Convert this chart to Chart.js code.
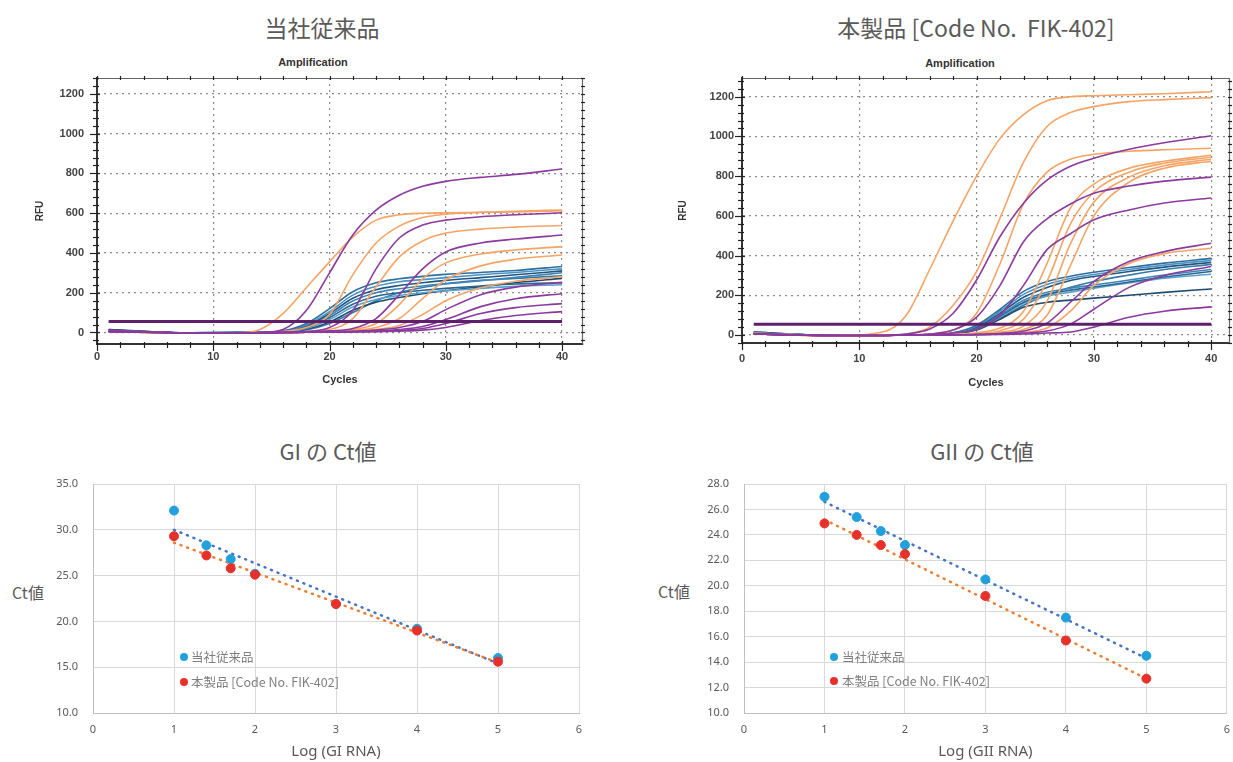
<!DOCTYPE html>
<html><head><meta charset="utf-8">
<script src="https://cdn.jsdelivr.net/npm/chart.js@4.4.0/dist/chart.umd.min.js"></script>
<style>
html,body{margin:0;padding:0;background:#fff;}
body{width:1233px;height:762px;overflow:hidden;position:relative;font-family:"Noto Sans CJK JP","Noto Sans",sans-serif;}
.title{position:absolute;font-size:23px;color:#5a5a5a;white-space:pre;transform:translate(-50%,-50%);line-height:1;}
.amp{position:absolute;font:bold 11px "Liberation Sans",Arial,sans-serif;color:#333;transform:translate(-50%,-50%);line-height:1;}
.ct{position:absolute;font-size:16px;color:#595959;transform:translate(-50%,-50%);line-height:1;white-space:pre;}
.leg{position:absolute;font-size:12.5px;color:#7f7f7f;white-space:pre;transform:translateY(-50%);line-height:1;}
.dot{position:absolute;width:8px;height:8px;border-radius:50%;transform:translate(-50%,-50%);}
canvas{position:absolute;}
</style></head>
<body>
<div class="title" style="left:322px;top:27px">当社従来品</div>
<div class="title" style="left:976px;top:27px">本製品 [Code No.  FIK-402]</div>
<div class="amp" style="left:313px;top:62px">Amplification</div>
<div class="amp" style="left:960px;top:63px">Amplification</div>
<div class="title" style="left:328px;top:450px;font-size:22px">GI の Ct値</div>
<div class="title" style="left:982px;top:450px;font-size:22px">GII の Ct値</div>
<div class="ct" style="left:28px;top:592px">Ct値</div>
<div class="ct" style="left:674px;top:591px">Ct値</div>

<canvas id="ampConv" width="600" height="360" style="left:0px;top:40px"></canvas>
<canvas id="ampNew" width="600" height="360" style="left:640px;top:40px"></canvas>
<canvas id="ctGI" width="600" height="292" style="left:0px;top:470px"></canvas>
<canvas id="ctGII" width="600" height="292" style="left:640px;top:470px"></canvas>

<div class="dot" style="left:184px;top:657px;background:#22a0dc"></div>
<div class="leg" style="left:191px;top:657px">当社従来品</div>
<div class="dot" style="left:184px;top:682px;background:#e8302a"></div>
<div class="leg" style="left:191px;top:682px">本製品 [Code No. FIK-402]</div>
<div class="dot" style="left:834px;top:657px;background:#22a0dc"></div>
<div class="leg" style="left:842px;top:657px">当社従来品</div>
<div class="dot" style="left:834px;top:681px;background:#e8302a"></div>
<div class="leg" style="left:842px;top:681px">本製品 [Code No. FIK-402]</div>

<script>
// ---------- Amplification data (RFU read at these cycles) ----------
const CYCLES = [1, 8, 12, 14, 16, 18, 20, 22, 24, 26, 28, 30, 33, 36, 40];
const THRESH_X = [1, 40];
const THRESH_CONV = [55, 55];
const THRESH_NEW = [55, 55];

const convOrange = [
  [8,-3,-2,15,95,225,355,480,565,592,600,602,604,606,612],
  [5,-3,-2,-2,5,25,90,290,450,535,578,595,605,610,616],
  [5,-3,-2,-2,0,5,15,70,230,380,460,500,520,530,538],
  [5,-3,-2,-2,0,2,6,15,45,140,270,350,395,415,432],
  [5,-3,-2,-2,0,2,5,10,25,70,170,265,335,368,390],
  [5,-3,-2,-2,0,2,4,8,15,35,90,160,225,258,280]
];
const convPurple = [
  [12,-2,-2,0,15,110,300,490,615,690,735,760,780,795,822],
  [5,-2,-2,-2,0,5,25,110,320,475,540,565,582,592,602],
  [5,-2,-2,-2,0,2,8,20,70,190,320,405,450,470,490],
  [5,-2,-2,-2,0,1,3,6,12,25,55,115,190,228,252],
  [5,-2,-2,-2,0,1,2,4,8,15,30,65,130,170,195],
  [5,-2,-2,-2,0,1,2,3,5,10,20,45,95,125,145],
  [5,-2,-2,-2,0,1,2,3,4,7,12,25,60,85,105]
];
const convBlue = [
  [10,-2,-1,0,8,45,120,205,250,270,282,292,302,312,332],
  [10,-2,-1,0,6,38,105,188,232,255,266,276,290,302,320],
  [10,-2,-1,0,5,32,95,172,215,236,250,262,276,290,310],
  [10,-2,-1,0,4,28,85,158,200,220,234,245,260,277,300],
  [10,-2,-1,0,4,24,75,142,182,200,212,222,234,244,250],
  [10,-2,-1,0,3,20,65,128,166,186,200,210,222,232,240],
  [15,-2,-1,0,3,16,52,112,152,176,195,210,230,250,272],
  [15,-2,-1,0,2,12,45,100,160,200,226,245,262,272,285]
];

const newOrange = [
  [10,-3,15,100,330,575,800,990,1110,1180,1200,1205,1210,1215,1225],
  [8,-3,-2,5,40,150,320,590,870,1050,1120,1150,1175,1185,1195],
  [5,-3,-2,0,5,25,110,360,660,820,885,910,925,933,940],
  [5,-3,-2,0,0,3,12,35,120,360,640,760,840,875,905],
  [5,-3,-2,0,0,2,8,22,80,270,560,720,820,865,895],
  [5,-3,-2,0,0,2,5,14,45,170,460,670,795,852,885],
  [5,-3,-2,0,0,1,4,10,28,100,350,600,770,840,875],
  [5,-3,-2,0,0,1,3,6,12,35,120,250,360,410,437]
];
const newPurple = [
  [5,-2,-2,5,30,110,277,496,664,780,850,890,935,968,1003],
  [5,-2,-2,0,5,25,90,250,470,585,660,714,750,775,795],
  [5,-2,-2,0,2,10,30,100,250,430,510,580,630,665,690],
  [5,-2,-2,0,0,1,3,8,20,60,165,270,370,420,462],
  [5,-2,-2,0,0,1,2,5,10,20,55,130,240,300,345],
  [5,-2,-2,0,0,1,2,3,5,10,15,40,90,120,142]
];
const newBlue = [
  [10,-2,-1,0,2,12,50,130,220,270,296,316,340,362,386],
  [10,-2,-1,0,2,10,45,120,205,255,285,305,330,352,376],
  [10,-2,-1,0,2,9,40,110,190,240,275,295,320,342,366],
  [10,-2,-1,0,2,8,35,100,175,215,236,252,277,302,330],
  [10,-2,-1,0,1,7,30,95,165,205,226,242,267,292,320],
  [10,-2,-1,0,1,7,30,90,160,195,216,236,262,286,306],
  [15,-2,-1,0,1,6,25,80,140,165,176,186,200,215,232],
  [15,-2,-1,0,1,7,30,85,150,200,240,270,302,330,356]
];

// ---------- Ct data ----------
const logRNA = [1, 1.4, 1.7, 2, 3, 4, 5];
const ctGI_conv = [32.1, 28.3, 26.8, 25.2, 21.9, 19.2, 16.0];
const ctGI_new  = [29.3, 27.2, 25.8, 25.1, 21.9, 19.0, 15.6];
const ctGII_conv = [27.0, 25.4, 24.3, 23.2, 20.5, 17.5, 14.5];
const ctGII_new  = [24.9, 24.0, 23.2, 22.5, 19.2, 15.7, 12.7];
const trendX = [1, 5];
const trendGI_conv = [30.0, 15.4];
const trendGI_new  = [28.6, 15.5];
const trendGII_conv = [26.6, 14.3];
const trendGII_new  = [25.2, 12.7];

// ---------- styles ----------
const ORANGE = '#f5a466';
const PURPLE = '#8b3a9e';
const BLUES = ['#2f6f9f','#4a93c4','#24557e','#3d85b8','#2a6690','#5aa0cc','#1f4a6e','#357aab'];
const THRESH_COLOR = '#5e1f6b';
const TICK_FONT = {family:'"Liberation Sans", Arial, sans-serif', size:11, weight:'bold'};

const pts = (xs, ys) => xs.map((x, i) => ({x, y: ys[i]}));
const curve = (vals, color) => ({
  data: pts(CYCLES, vals), borderColor: color, borderWidth: 1.6,
  pointRadius: 0, cubicInterpolationMode: 'monotone', fill: false
});

const frameTicks = {
  id: 'frameTicks',
  afterDraw(chart) {
    const {ctx, chartArea: a, scales: {x, y}} = chart;
    ctx.save();
    ctx.strokeStyle = '#666'; ctx.lineWidth = 1.2;
    ctx.beginPath();
    ctx.moveTo(a.left, a.top + 0.5); ctx.lineTo(a.right - 0.5, a.top + 0.5); ctx.lineTo(a.right - 0.5, a.bottom);
    ctx.stroke();
    ctx.strokeStyle = '#222'; ctx.lineWidth = 1.2;
    for (let v = Math.ceil(y.min / 40) * 40; v <= y.max; v += 40) {
      const py = Math.round(y.getPixelForValue(v)) + 0.5;
      const major = v % 200 === 0;
      ctx.beginPath(); ctx.moveTo(a.left - (major ? 7 : 4), py); ctx.lineTo(a.left + (major ? 3 : 2), py); ctx.stroke();
      ctx.beginPath(); ctx.moveTo(a.right - 2, py); ctx.lineTo(a.right + 2, py); ctx.stroke();
    }
    for (let v = 0; v <= x.max; v += 2) {
      const px = Math.round(x.getPixelForValue(v)) + 0.5;
      const major = v % 10 === 0;
      ctx.beginPath(); ctx.moveTo(px, a.bottom - (major ? 3 : 2)); ctx.lineTo(px, a.bottom + (major ? 7 : 4)); ctx.stroke();
      ctx.beginPath(); ctx.moveTo(px, a.top - 2); ctx.lineTo(px, a.top + 2); ctx.stroke();
    }
    ctx.restore();
  }
};

function ampChart(id, orange, purple, blue, thresh, o) {
  const sets = [];
  sets.push({data: pts(THRESH_X, thresh), borderColor: THRESH_COLOR, borderWidth: 3, pointRadius: 0, fill: false});
  purple.forEach(v => sets.push(curve(v, PURPLE)));
  orange.forEach(v => sets.push(curve(v, ORANGE)));
  blue.forEach((v, i) => sets.push(curve(v, BLUES[i % BLUES.length])));
  return new Chart(document.getElementById(id), {
    type: 'line',
    data: {datasets: sets},
    plugins: [frameTicks],
    options: {
      responsive: false, animation: false, events: [],
      layout: {padding: {top: o.padTop, right: o.padRight, left: 0, bottom: 0}},
      plugins: {legend: {display: false}, tooltip: {enabled: false}},
      scales: {
        x: {
          type: 'linear', min: 0, max: o.xMax,
          ticks: {stepSize: 10, includeBounds: false, padding: o.xTickPad, color: '#444', font: TICK_FONT, maxRotation: 0, callback: v => String(v)},
          grid: {color: '#8c8c8c', lineWidth: 1.2, drawTicks: false},
          border: {display: true, color: '#333', width: 2, dash: [2, 4]},
          title: {display: true, text: 'Cycles', color: '#333', font: TICK_FONT, padding: {top: 0, bottom: o.cycPad}},
          afterFit: s => { s.height = o.xH; }
        },
        y: {
          min: o.yMin, max: o.yMax,
          ticks: {stepSize: 200, includeBounds: false, padding: o.yTickPad, color: '#444', font: TICK_FONT, callback: v => String(v)},
          grid: {color: '#8c8c8c', lineWidth: 1.2, drawTicks: false},
          border: {display: true, color: '#333', width: 2, dash: [2, 4]},
          title: {display: true, text: 'RFU', color: '#333', font: {family: TICK_FONT.family, size: 10, weight: 'bold'}, padding: {top: o.rfuPad, bottom: 0}},
          afterFit: s => { s.width = o.yW; }
        }
      }
    }
  });
}

ampChart('ampConv', convOrange, convPurple, convBlue, THRESH_CONV,
  {padTop: 38, padRight: 17, xMax: 41.8, yMin: -58, yMax: 1280, yW: 97, xH: 56, xTickPad: 6, yTickPad: 13, cycPad: 13, rfuPad: 34});
ampChart('ampNew', newOrange, newPurple, newBlue, THRESH_NEW,
  {padTop: 38, padRight: 10, xMax: 41.6, yMin: -40, yMax: 1294, yW: 102, xH: 57, xTickPad: 9, yTickPad: 8, cycPad: 10, rfuPad: 37});

const CT_FONT = {family: '"Noto Sans", sans-serif', size: 11};
function ctChart(id, conv, nw, tConv, tNew, o) {
  return new Chart(document.getElementById(id), {
    type: 'scatter',
    data: {datasets: [
      {data: pts(logRNA, nw), backgroundColor: '#e8302a', borderColor: '#e8302a', borderWidth: 1, pointRadius: 4.5},
      {data: pts(logRNA, conv), backgroundColor: '#22a0dc', borderColor: '#22a0dc', borderWidth: 1, pointRadius: 4.5},
      {type: 'line', data: pts(trendX, tNew), borderColor: '#ed7d31', borderWidth: 2.5, borderDash: [1, 6], borderCapStyle: 'round', pointRadius: 0, fill: false},
      {type: 'line', data: pts(trendX, tConv), borderColor: '#4472c4', borderWidth: 2.5, borderDash: [1, 6], borderCapStyle: 'round', pointRadius: 0, fill: false}
    ]},
    options: {
      responsive: false, animation: false, events: [],
      layout: {padding: {top: 14, right: o.padRight, left: 0, bottom: 0}},
      plugins: {legend: {display: false}, tooltip: {enabled: false}},
      scales: {
        x: {
          type: 'linear', min: 0, max: 6,
          ticks: {stepSize: 1, padding: 10, color: '#595959', font: CT_FONT, maxRotation: 0},
          grid: {color: '#d9d9d9', lineWidth: 1, drawTicks: false},
          border: {display: true, color: '#bfbfbf', width: 1},
          title: {display: true, text: o.xTitle, color: '#595959', font: {family: '"Noto Sans", sans-serif', size: 15}, padding: {top: 0, bottom: 1}},
          afterFit: s => { s.height = 49; }
        },
        y: {
          min: o.yMin, max: o.yMax,
          ticks: {stepSize: o.yStep, padding: 7, color: '#595959', font: CT_FONT, callback: v => Number(v).toFixed(1)},
          grid: {color: '#d9d9d9', lineWidth: 1, drawTicks: true, tickLength: 8, tickColor: 'rgba(0,0,0,0)'},
          border: {display: true, color: '#bfbfbf', width: 1},
          afterFit: s => { s.width = o.yW; }
        }
      }
    }
  });
}

ctChart('ctGI', ctGI_conv, ctGI_new, trendGI_conv, trendGI_new,
  {padRight: 21, yW: 93, yMin: 10, yMax: 35, yStep: 5, xTitle: 'Log (GI RNA)'});
ctChart('ctGII', ctGII_conv, ctGII_new, trendGII_conv, trendGII_new,
  {padRight: 10, yW: 104, yMin: 10, yMax: 28, yStep: 2, xTitle: 'Log (GII RNA)'});
</script>
</body></html>
